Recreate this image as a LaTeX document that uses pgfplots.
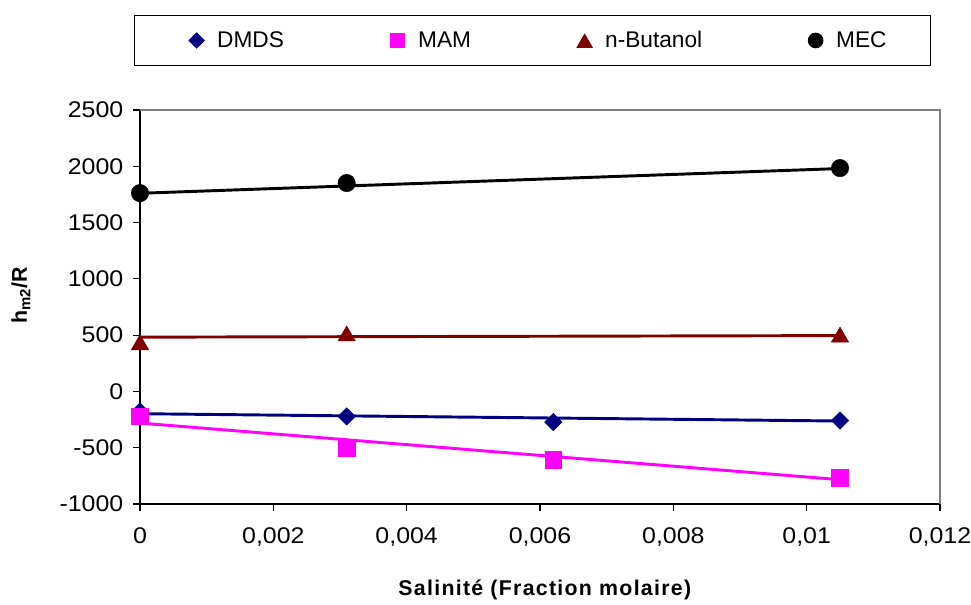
\documentclass[border=0pt]{standalone}
\usepackage{pgfplots}
\pgfplotsset{compat=1.18}
\usepackage{fontspec}
\setmainfont{Liberation Sans}
\newfontfamily\tickfont{Liberation Sans}[FakeStretch=1.1]
\definecolor{dmds}{RGB}{0,0,128}
\definecolor{mam}{RGB}{255,0,255}
\definecolor{nbut}{RGB}{128,0,0}
\definecolor{mec}{RGB}{0,0,0}
\pgfplotsset{
  limg/.style 2 args={legend image code/.code={\draw[##1, mark size=#1] plot coordinates {(0pt,0pt)}; \path (#2,0pt) (6pt,0pt);}},
}
\begin{document}
\begin{tikzpicture}
\path[use as bounding box] (0pt,0pt) rectangle (728.25pt,453.75pt);
\begin{axis}[
  at={(105pt,75.75pt)}, anchor=south west,
  scale only axis, width=600pt, height=295.5pt,
  xmin=0, xmax=0.012, ymin=-1000, ymax=2500,
  scaled x ticks=false, scaled y ticks=false,
  axis x line*=bottom, axis y line*=left,
  axis line style={-, line width=1pt, black},
  xtick={0,0.002,0.004,0.006,0.008,0.01,0.012},
  xticklabels={0,{0,002},{0,004},{0,006},{0,008},{0,01},{0,012}},
  ytick={-1000,-500,0,500,1000,1500,2000,2500},
  yticklabels={-1000,-500,0,500,1000,1500,2000,2500},
  tick align=outside, major tick length=5pt,
  tick style={black, line width=0.8pt},
  ticklabel style={font=\tickfont\fontsize{17}{20}\selectfont},
  xticklabel style={yshift=-9pt},
  yticklabel style={xshift=-4pt},
  xlabel={Salinité (Fraction molaire)},
  xlabel style={at={(axis description cs:0.506,-0.218)}, anchor=center, font=\fontsize{16}{19}\selectfont\bfseries\addfontfeatures{LetterSpace=6}},
  ylabel={h\textsubscript{m2}/R},
  ylabel style={at={(axis description cs:-0.149,0.53)}, anchor=center, font=\fontsize{16}{19}\selectfont\bfseries},
  legend columns=4,
  legend style={at={(axis description cs:0.4906,1.1764)}, anchor=center, draw=black, line width=0.75pt,
    font=\fontsize{17}{20}\selectfont, inner xsep=0pt, inner ysep=10pt,
    nodes={inner xsep=0pt, inner ysep=2pt}, column sep=0pt},
  legend cell align=left,
  clip=false,
]
\addplot[only marks, mark=square*, mark size=4.6pt, mark options={rotate=45, fill=dmds, draw=dmds},
  limg={4pt}{-46.5pt}]
  coordinates {(0,-178)(0.0031,-222)(0.0062,-272)(0.0105,-258)};
\addlegendentry{\hspace*{9pt}\makebox[129pt][l]{DMDS}}
\addplot[only marks, mark=square*, mark size=6.2pt, mark options={fill=mam, draw=mam},
  limg={5.5pt}{-6pt}]
  coordinates {(0,-222)(0.0031,-503)(0.0062,-607)(0.0105,-769)};
\addlegendentry{\hspace*{9pt}\makebox[118.5pt][l]{MAM}}
\addplot[only marks, mark=triangle*, mark size=7.5pt, mark options={fill=nbut, draw=nbut, yshift=-1.9pt},
  limg={6.5pt}{-6pt}]
  coordinates {(0,437)(0.0031,515)(0.0105,505)};
\addlegendentry{\hspace*{9pt}\makebox[151.5pt][l]{n-Butanol}}
\addplot[only marks, mark=*, mark size=6.5pt, mark options={fill=mec, draw=mec},
  limg={5.5pt}{-6pt}]
  coordinates {(0,1762)(0.0031,1851)(0.0105,1984)};
\addlegendentry{\hspace*{9pt}\makebox[71pt][l]{MEC}}
% trend lines
\addplot[dmds, line width=2.2pt, forget plot] coordinates {(0,-198)(0.0105,-263)};
\addplot[mam, line width=2.2pt, forget plot] coordinates {(0,-281)(0.0105,-784)};
\addplot[nbut, line width=2.2pt, forget plot] coordinates {(0,482)(0.0105,496)};
\addplot[mec, line width=2.2pt, forget plot] coordinates {(0,1760)(0.0105,1980)};
\draw[black!50, line width=1.2pt] (rel axis cs:0,1) -- (rel axis cs:1,1) -- (rel axis cs:1,0);
\end{axis}
\end{tikzpicture}
\end{document}
